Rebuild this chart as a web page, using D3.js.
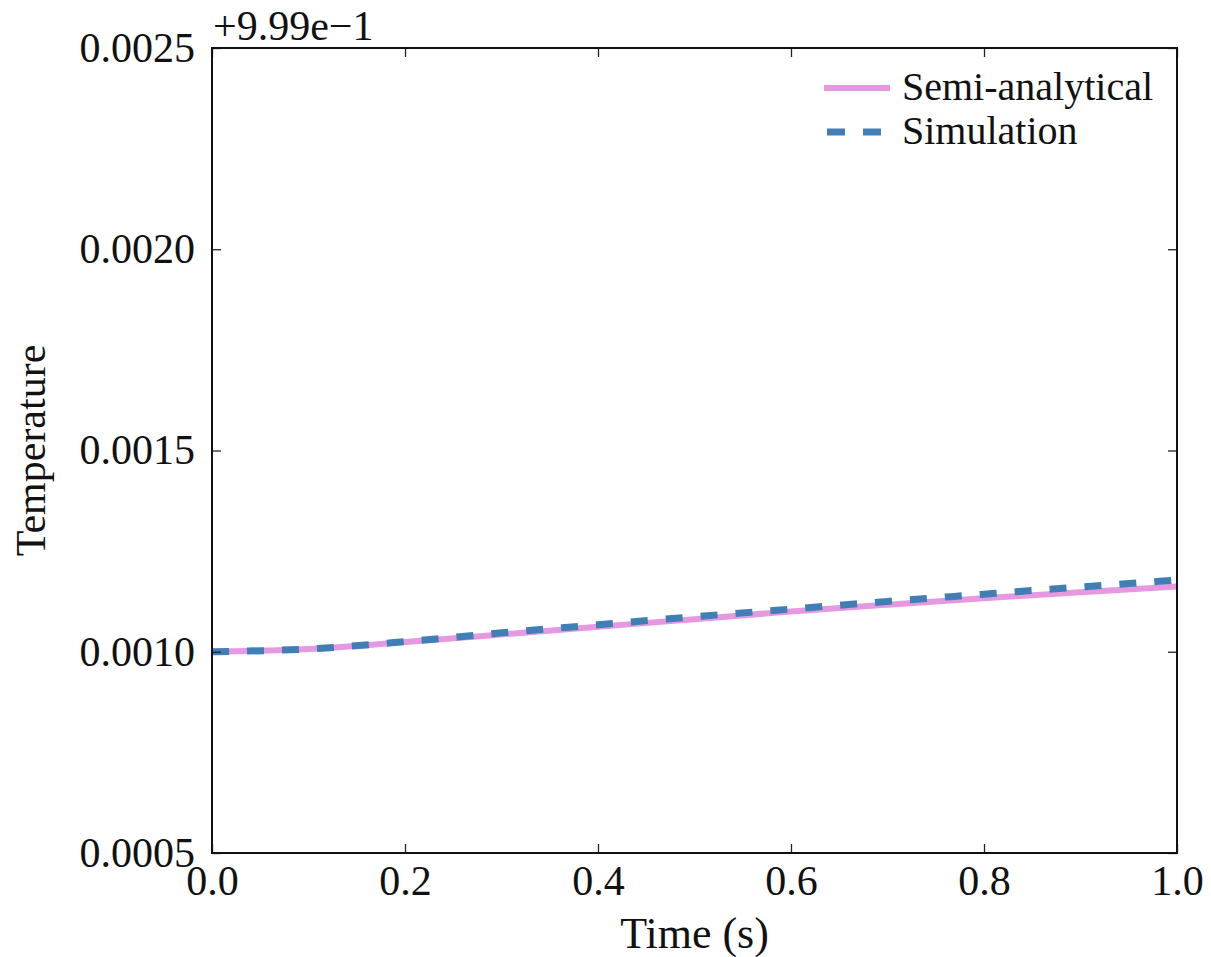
<!DOCTYPE html>
<html><head><meta charset="utf-8">
<script src="https://cdn.jsdelivr.net/npm/d3@7"></script>
<style>body{margin:0;background:#fff}svg{display:block}text{font-family:"Liberation Serif","DejaVu Serif",serif;fill:#111}</style>
</head><body><svg id="c" width="1211" height="957"></svg>
<script>
const times = [0, 0.1, 0.2, 0.3, 0.4, 0.5, 0.6, 0.7, 0.8, 0.9, 1.0];
// values relative to the offset +9.99e-1
const semiAnalytical = [0.001000, 0.001007, 0.001024, 0.001043, 0.001062, 0.001081, 0.001100, 0.001117, 0.001133, 0.001148, 0.001162];
const simulation     = [0.001000, 0.001007, 0.001025, 0.001047, 0.001067, 0.001087, 0.001106, 0.001125, 0.001143, 0.001161, 0.001178];
const xTicks = [0, 0.2, 0.4, 0.6, 0.8, 1.0];
const xTickLabels = ["0.0", "0.2", "0.4", "0.6", "0.8", "1.0"];
const yTicks = [0.0005, 0.0010, 0.0015, 0.0020, 0.0025];
const yTickLabels = ["0.0005", "0.0010", "0.0015", "0.0020", "0.0025"];
const offsetText = "+9.99e\u22121";
const seriesNames = ["Semi-analytical", "Simulation"];

const svg = d3.select("#c");
const L = 212, R = 1177, T = 48, B = 853;
const x = d3.scaleLinear().domain([0, 1]).range([L, R]);
const y = d3.scaleLinear().domain([0.0005, 0.0025]).range([B, T]);
const pink = "#e699e0", blue = "#3f7fb6";
const fs = 42;

const g = svg.append("g");
svg.append("clipPath").attr("id", "pc").append("rect").attr("x", L).attr("y", T).attr("width", R - L).attr("height", B - T);

const line = d3.line().x((d, i) => x(times[i])).y(d => y(d)).curve(d3.curveMonotoneX);
g.append("path").datum(semiAnalytical).attr("d", line).attr("fill", "none").attr("stroke", pink).attr("stroke-width", 6).attr("clip-path", "url(#pc)");
g.append("path").datum(simulation).attr("d", line).attr("fill", "none").attr("stroke", blue).attr("stroke-width", 7).attr("stroke-dasharray", "17,18").attr("clip-path", "url(#pc)");

// axes with inward ticks
const tk = 9;
const axB = d3.axisBottom(x).tickValues(xTicks).tickFormat((d, i) => xTickLabels[i]).tickSizeInner(-tk).tickSizeOuter(0).tickPadding(12);
const axT = d3.axisTop(x).tickValues(xTicks).tickFormat("").tickSizeInner(-tk).tickSizeOuter(0);
const axLft = d3.axisLeft(y).tickValues(yTicks).tickFormat((d, i) => yTickLabels[i]).tickSizeInner(-tk).tickSizeOuter(0).tickPadding(17);
const axRt = d3.axisRight(y).tickValues(yTicks).tickFormat("").tickSizeInner(-tk).tickSizeOuter(0);

function style(sel) {
  sel.select(".domain").remove();
  sel.selectAll(".tick line").attr("stroke", "#222").attr("stroke-width", 1.3);
  sel.selectAll(".tick text").style("font-size", fs + "px").attr("fill", "#111");
}
svg.append("g").attr("transform", `translate(0,${B})`).call(axB).call(style);
svg.append("g").attr("transform", `translate(0,${T})`).call(axT).call(style);
svg.append("g").attr("transform", `translate(${L},0)`).call(axLft).call(style);
svg.append("g").attr("transform", `translate(${R},0)`).call(axRt).call(style);

svg.append("rect").attr("x", L).attr("y", T).attr("width", R - L).attr("height", B - T).attr("fill", "none").attr("stroke", "#111").attr("stroke-width", 2);

svg.append("text").attr("x", L + 1).attr("y", 40).style("font-size", fs + "px").text(offsetText);
svg.append("text").attr("x", (L + R) / 2).attr("y", 948).attr("text-anchor", "middle").style("font-size", "44px").text("Time (s)");
svg.append("text").attr("transform", `translate(45,${(T + B) / 2}) rotate(-90)`).attr("text-anchor", "middle").style("font-size", fs + "px").text("Temperature");

// legend
const lg = svg.append("g");
const ly = [88, 132];
lg.append("line").attr("x1", 824).attr("x2", 890).attr("y1", ly[0]).attr("y2", ly[0]).attr("stroke", pink).attr("stroke-width", 6);
lg.append("line").attr("x1", 827).attr("x2", 890).attr("y1", ly[1]).attr("y2", ly[1]).attr("stroke", blue).attr("stroke-width", 7).attr("stroke-dasharray", "18,18");
seriesNames.forEach((n, i) => lg.append("text").attr("x", 902).attr("y", ly[i] + 12).style("font-size", "40px").text(n));
</script></body></html>
